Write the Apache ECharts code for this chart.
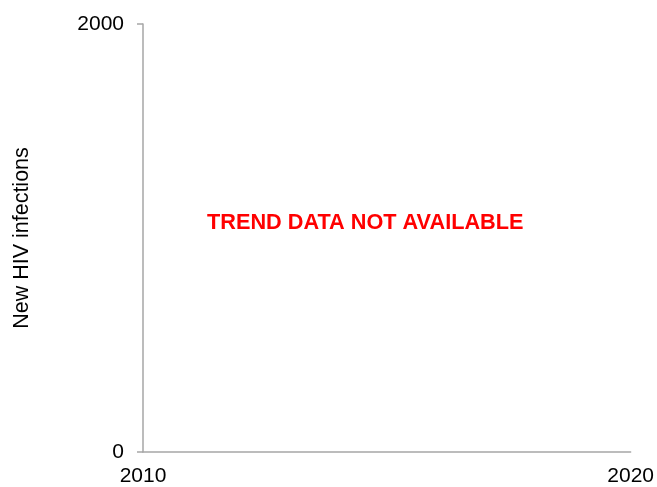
<!DOCTYPE html>
<html lang="en">
<head>
    <meta charset="UTF-8">
    <title>New HIV infections</title>
    <script src="https://cdn.jsdelivr.net/npm/echarts@6/dist/echarts.min.js"></script>
    <style>
        html, body { margin: 0; padding: 0; background: #fff; }
        #chart { width: 657px; height: 487px; }
    </style>
</head>
<body>
<div id="chart"></div>
<script>
    // data
    var years = [2010, 2020];
    var yTicks = [0, 2000];
    var infections = []; // no trend data
    var noDataText = 'TREND DATA NOT AVAILABLE';

    var myChart = echarts.init(document.getElementById('chart'));
    var font = 'Liberation Sans, Arial, sans-serif';
    var plain = function (v) { return String(v); };

    var option = {
        animation: false,
        grid: { left: 143, right: 25, top: 24, bottom: 31 },
        xAxis: {
            type: 'value',
            min: years[0],
            max: years[years.length - 1],
            interval: years[1] - years[0],
            splitLine: { show: false },
            axisLine: { show: true, lineStyle: { color: '#a6a6a6', width: 1.5 } },
            axisTick: { show: false },
            axisLabel: { color: '#000', fontFamily: font, fontSize: 21, margin: 14, formatter: plain }
        },
        yAxis: {
            type: 'value',
            min: yTicks[0],
            max: yTicks[yTicks.length - 1],
            interval: yTicks[1] - yTicks[0],
            name: 'New HIV infections',
            nameLocation: 'middle',
            nameRotate: 90,
            nameGap: 110,
            nameTextStyle: { color: '#000', fontFamily: font, fontSize: 21.5 },
            splitLine: { show: false },
            axisLine: { show: true, lineStyle: { color: '#a6a6a6', width: 1.5 } },
            axisTick: { show: true, length: 6, lineStyle: { color: '#a6a6a6', width: 1.5 } },
            axisLabel: { color: '#000', fontFamily: font, fontSize: 21, margin: 19, formatter: plain }
        },
        graphic: [{
            type: 'text',
            left: 207,
            top: 212,
            style: {
                text: noDataText,
                fill: '#ff0000',
                font: 'bold 21.7px ' + font
            }
        }],
        series: [{
            type: 'line',
            data: infections
        }]
    };
    myChart.setOption(option);
</script>
</body>
</html>
